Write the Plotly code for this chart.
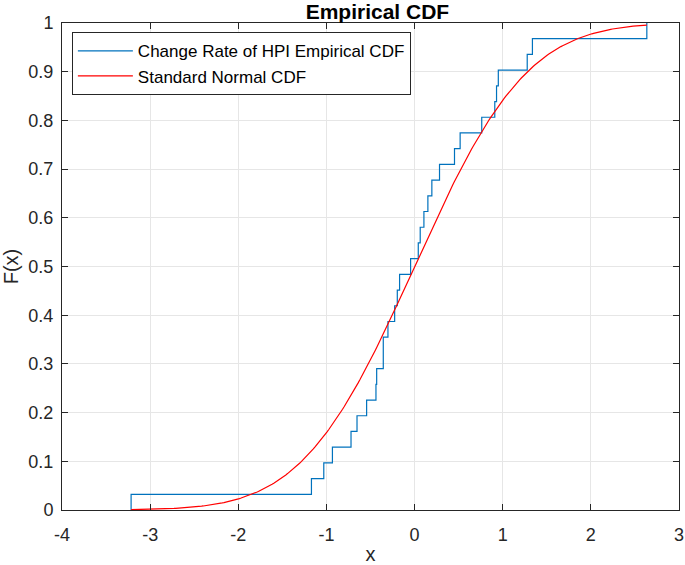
import math
import plotly.graph_objects as go

# Sorted sample values (change rate of HPI)
sample_values = [-3.216, -1.17, -1.03, -0.932, -0.721, -0.653, -0.544, -0.438, -0.430,
                 -0.355, -0.355, -0.302, -0.226, -0.196, -0.170, -0.045, 0.042, 0.064,
                 0.106, 0.151, 0.196, 0.283, 0.453, 0.517, 0.762, 0.910, 0.930, 0.950,
                 1.278, 1.337, 2.635]
x_ticks = [-4, -3, -2, -1, 0, 1, 2, 3]
y_ticks = [0, 0.1, 0.2, 0.3, 0.4, 0.5, 0.6, 0.7, 0.8, 0.9, 1]
y_tick_labels = ["0", "0.1", "0.2", "0.3", "0.4", "0.5", "0.6", "0.7", "0.8", "0.9", "1"]

n = len(sample_values)
xs = [sample_values[0]] + sample_values
ys = [k / n for k in range(n + 1)]

lo, hi = sample_values[0], sample_values[-1]
m = 300
nx = [lo + (hi - lo) * i / m for i in range(m + 1)]
ny = [0.5 * (1 + math.erf(v / math.sqrt(2))) for v in nx]

font = "Liberation Sans, Arial, Helvetica, sans-serif"
axc = "#262626"

fig = go.Figure()
fig.add_trace(go.Scatter(x=xs, y=ys, mode="lines", line=dict(color="#0072BD", width=1.2, shape="hv"),
                         name="Change Rate of HPI Empirical CDF"))
fig.add_trace(go.Scatter(x=nx, y=ny, mode="lines", line=dict(color="#FF0000", width=1.2),
                         name="Standard Normal CDF"))

fig.update_layout(
    width=685, height=565,
    margin=dict(l=62, r=6, t=23, b=55, autoexpand=False),
    paper_bgcolor="white", plot_bgcolor="white",
    font=dict(family=font, size=18, color=axc),
    title=dict(text="<b>Empirical CDF</b>", x=0.551, xanchor="center",
               yref="container", y=0.979, yanchor="middle",
               font=dict(size=21, color="black")),
    showlegend=True,
    legend=dict(x=0.016, y=0.981, xanchor="left", yanchor="top", bgcolor="white",
                bordercolor=axc, borderwidth=1, font=dict(size=17, color="black"),
                itemwidth=55, tracegroupgap=0),
    xaxis=dict(range=[-4, 3], tickvals=x_ticks, ticktext=[str(v) for v in x_ticks],
               showgrid=True, gridcolor="#e6e6e6", gridwidth=1, zeroline=False,
               showline=True, linecolor=axc, linewidth=1, mirror="allticks",
               ticks="inside", ticklen=6, tickcolor=axc, automargin=False,
               ticklabelstandoff=8,
               title=dict(text="x", font=dict(size=20), standoff=4)),
    yaxis=dict(range=[0, 1], tickvals=y_ticks, ticktext=y_tick_labels,
               showgrid=True, gridcolor="#e6e6e6", gridwidth=1, zeroline=False,
               showline=True, linecolor=axc, linewidth=1, mirror="allticks",
               ticks="inside", ticklen=6, tickcolor=axc, automargin=False,
               ticklabelstandoff=4,
               title=dict(text="F(x)", font=dict(size=20), standoff=4)),
)

fig.write_html("out.html", config={"displayModeBar": False},
               post_script="document.body.style.margin='0px';document.body.style.overflow='hidden';")
